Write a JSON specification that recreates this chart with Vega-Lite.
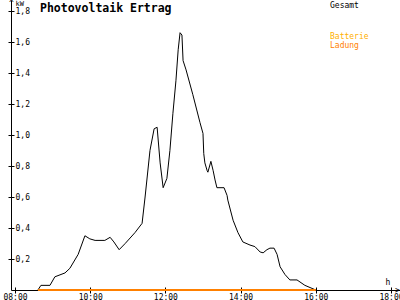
{
  "$schema": "https://vega.github.io/schema/vega-lite/v6.json",
  "autosize": {"type": "none"},
  "padding": {"left": 11, "top": 0, "right": 0, "bottom": 10},
  "width": 389,
  "height": 290,
  "background": "white",
  "title": {
    "text": "Photovoltaik Ertrag",
    "anchor": "start",
    "frame": "group",
    "orient": "top",
    "baseline": "top",
    "offset": -15,
    "dx": 29,
    "font": "DejaVu Sans Mono",
    "fontSize": 11.5,
    "fontWeight": "bold",
    "color": "#000000"
  },
  "config": {
    "view": {"stroke": null},
    "axis": {
      "grid": false,
      "labelFont": "DejaVu Sans Mono",
      "labelFontSize": 8,
      "labelColor": "#000000",
      "titleFont": "DejaVu Sans Mono",
      "titleFontSize": 8,
      "titleFontWeight": "normal",
      "titleColor": "#000000",
      "domainColor": "#000000",
      "tickColor": "#000000",
      "domainWidth": 1,
      "tickWidth": 1
    }
  },
  "data": {
    "values": [
      {"t": 8.61, "kW": 0, "serie": "Gesamt"},
      {"t": 8.69, "kW": 0.03, "serie": "Gesamt"},
      {"t": 8.93, "kW": 0.03, "serie": "Gesamt"},
      {"t": 9.06, "kW": 0.085, "serie": "Gesamt"},
      {"t": 9.33, "kW": 0.11, "serie": "Gesamt"},
      {"t": 9.46, "kW": 0.14, "serie": "Gesamt"},
      {"t": 9.68, "kW": 0.23, "serie": "Gesamt"},
      {"t": 9.86, "kW": 0.35, "serie": "Gesamt"},
      {"t": 9.99, "kW": 0.33, "serie": "Gesamt"},
      {"t": 10.13, "kW": 0.32, "serie": "Gesamt"},
      {"t": 10.39, "kW": 0.32, "serie": "Gesamt"},
      {"t": 10.53, "kW": 0.34, "serie": "Gesamt"},
      {"t": 10.63, "kW": 0.31, "serie": "Gesamt"},
      {"t": 10.77, "kW": 0.26, "serie": "Gesamt"},
      {"t": 10.93, "kW": 0.3, "serie": "Gesamt"},
      {"t": 11.19, "kW": 0.37, "serie": "Gesamt"},
      {"t": 11.38, "kW": 0.43, "serie": "Gesamt"},
      {"t": 11.46, "kW": 0.6, "serie": "Gesamt"},
      {"t": 11.59, "kW": 0.9, "serie": "Gesamt"},
      {"t": 11.7, "kW": 1.04, "serie": "Gesamt"},
      {"t": 11.78, "kW": 1.05, "serie": "Gesamt"},
      {"t": 11.86, "kW": 0.82, "serie": "Gesamt"},
      {"t": 11.94, "kW": 0.66, "serie": "Gesamt"},
      {"t": 12.04, "kW": 0.72, "serie": "Gesamt"},
      {"t": 12.12, "kW": 0.9, "serie": "Gesamt"},
      {"t": 12.2, "kW": 1.14, "serie": "Gesamt"},
      {"t": 12.28, "kW": 1.35, "serie": "Gesamt"},
      {"t": 12.34, "kW": 1.55, "serie": "Gesamt"},
      {"t": 12.39, "kW": 1.66, "serie": "Gesamt"},
      {"t": 12.44, "kW": 1.645, "serie": "Gesamt"},
      {"t": 12.47, "kW": 1.48, "serie": "Gesamt"},
      {"t": 12.55, "kW": 1.42, "serie": "Gesamt"},
      {"t": 12.73, "kW": 1.26, "serie": "Gesamt"},
      {"t": 12.92, "kW": 1.08, "serie": "Gesamt"},
      {"t": 13.0, "kW": 1.01, "serie": "Gesamt"},
      {"t": 13.02, "kW": 0.88, "serie": "Gesamt"},
      {"t": 13.05, "kW": 0.82, "serie": "Gesamt"},
      {"t": 13.11, "kW": 0.77, "serie": "Gesamt"},
      {"t": 13.13, "kW": 0.76, "serie": "Gesamt"},
      {"t": 13.21, "kW": 0.83, "serie": "Gesamt"},
      {"t": 13.27, "kW": 0.77, "serie": "Gesamt"},
      {"t": 13.32, "kW": 0.71, "serie": "Gesamt"},
      {"t": 13.37, "kW": 0.66, "serie": "Gesamt"},
      {"t": 13.56, "kW": 0.66, "serie": "Gesamt"},
      {"t": 13.64, "kW": 0.61, "serie": "Gesamt"},
      {"t": 13.66, "kW": 0.58, "serie": "Gesamt"},
      {"t": 13.8, "kW": 0.45, "serie": "Gesamt"},
      {"t": 13.93, "kW": 0.37, "serie": "Gesamt"},
      {"t": 14.06, "kW": 0.31, "serie": "Gesamt"},
      {"t": 14.25, "kW": 0.29, "serie": "Gesamt"},
      {"t": 14.38, "kW": 0.28, "serie": "Gesamt"},
      {"t": 14.52, "kW": 0.245, "serie": "Gesamt"},
      {"t": 14.6, "kW": 0.24, "serie": "Gesamt"},
      {"t": 14.7, "kW": 0.26, "serie": "Gesamt"},
      {"t": 14.78, "kW": 0.27, "serie": "Gesamt"},
      {"t": 14.89, "kW": 0.27, "serie": "Gesamt"},
      {"t": 14.97, "kW": 0.23, "serie": "Gesamt"},
      {"t": 15.05, "kW": 0.15, "serie": "Gesamt"},
      {"t": 15.18, "kW": 0.1, "serie": "Gesamt"},
      {"t": 15.31, "kW": 0.065, "serie": "Gesamt"},
      {"t": 15.5, "kW": 0.065, "serie": "Gesamt"},
      {"t": 15.71, "kW": 0.03, "serie": "Gesamt"},
      {"t": 16.0, "kW": 0, "serie": "Gesamt"},
      {"t": 8.61, "kW": 0, "serie": "Ladung"},
      {"t": 16.0, "kW": 0, "serie": "Ladung"}
    ]
  },
  "layer": [
    {
      "transform": [{"filter": "datum.serie === 'Gesamt'"}],
      "mark": {"type": "line", "strokeWidth": 1, "interpolate": "linear"},
      "encoding": {
        "x": {
          "field": "t", "type": "quantitative",
          "scale": {"domain": [7.894, 18.239], "nice": false, "zero": false},
          "axis": {
            "orient": "bottom",
            "values": [8, 10, 12, 14, 16, 18],
            "tickSize": 3,
            "labelPadding": 0,
            "labelBaseline": "top",
            "labelFlush": false,
            "labelOverlap": false,
            "labelExpr": "(datum.value < 10 ? '0' : '') + datum.value + ':00'",
            "title": "h",
            "titleX": 374,
            "titleY": -12,
            "titleAlign": "left",
            "titleBaseline": "top"
          }
        },
        "y": {
          "field": "kW", "type": "quantitative",
          "scale": {"domain": [0, 1.871], "nice": false, "zero": false},
          "axis": {
            "orient": "left",
            "values": [0.2, 0.4, 0.6, 0.8, 1.0, 1.2, 1.4, 1.6, 1.8],
            "tickSize": 3,
            "labelAlign": "left",
            "labelBaseline": "middle",
            "labelPadding": -7,
            "labelFlush": false,
            "labelOverlap": false,
            "labelExpr": "replace(format(datum.value, '.1f'), '.', ',')",
            "title": "kW",
            "titleFontSize": 7,
            "titleAngle": 0,
            "titleX": 4,
            "titleY": -1,
            "titleAlign": "left",
            "titleBaseline": "top"
          }
        },
        "color": {
          "field": "serie", "type": "nominal",
          "scale": {"domain": ["Gesamt", "Batterie", "Ladung"], "range": ["#000000", "#FFB000", "#FF8000"]},
          "legend": {
            "orient": "none",
            "legendX": 319,
            "legendY": 2,
            "values": ["Batterie", "Ladung"],
            "title": "Gesamt",
            "titleFont": "DejaVu Sans Mono",
            "titleFontSize": 8,
            "titleFontWeight": "normal",
            "titleColor": "#000000",
            "titleBaseline": "top",
            "titlePadding": 19,
            "symbolSize": 0,
            "symbolStrokeWidth": 0,
            "symbolOpacity": 0,
            "labelOffset": 0,
            "rowPadding": 0,
            "labelFont": "DejaVu Sans Mono",
            "labelFontSize": 8,
            "labelBaseline": "top",
            "encode": {
              "labels": {
                "update": {
                  "fill": {"signal": "scale('color', datum.value)"},
                  "dx": {"value": -8},
                  "dy": {"signal": "datum.value === 'Ladung' ? -3 : 0"}
                }
              }
            }
          }
        }
      }
    },
    {
      "transform": [{"filter": "datum.serie === 'Ladung'"}],
      "mark": {"type": "line", "strokeWidth": 2},
      "encoding": {
        "x": {
          "field": "t", "type": "quantitative",
          "axis": {"orient": "bottom", "values": [8, 10, 12, 14, 16, 18], "tickSize": -3, "labels": false, "domain": false,
                   "title": ">", "titleX": 386, "titleY": 0, "titleAlign": "center", "titleBaseline": "middle", "titleFontSize": 8}
        },
        "y": {
          "field": "kW", "type": "quantitative",
          "axis": {"orient": "left", "values": [0.2, 0.4, 0.6, 0.8, 1.0, 1.2, 1.4, 1.6, 1.8], "tickSize": -3, "labels": false, "domain": false,
                   "title": "^", "titleAngle": 0, "titleX": 0, "titleY": -1, "titleAlign": "center", "titleBaseline": "top", "titleFontSize": 8}
        },
        "color": {"field": "serie", "type": "nominal"}
      }
    }
  ],
  "resolve": {"axis": {"x": "independent", "y": "independent"}}
}
